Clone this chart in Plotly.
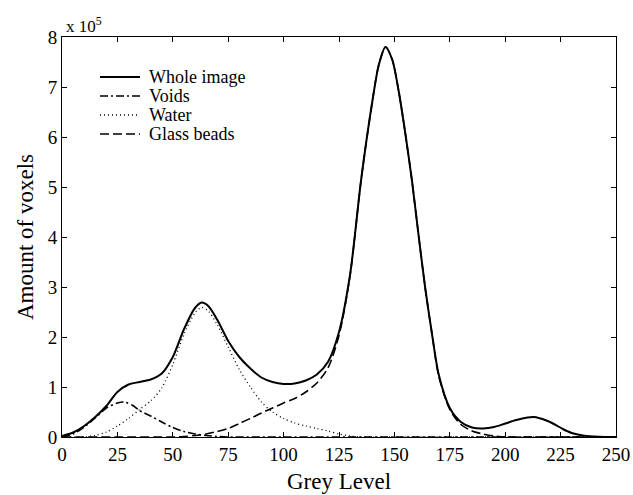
import plotly.graph_objects as go

# Whole image histogram (grey level, amount x 1e5)
whole_x = [0, 5, 10, 15, 20, 25, 30, 35, 40, 45, 50, 55, 60, 63, 66, 70, 75, 80, 85, 90,
           95, 100, 105, 110, 115, 120, 125, 130, 135, 140, 143, 146, 149, 152, 155, 158,
           161, 164, 167, 170, 175, 180, 185, 190, 195, 200, 205, 210, 213, 218, 222, 226,
           230, 235, 240, 245, 250]
whole_y = [0.02, 0.09, 0.22, 0.40, 0.62, 0.90, 1.05, 1.10, 1.15, 1.27, 1.60, 2.15, 2.58, 2.69,
           2.62, 2.35, 1.92, 1.60, 1.37, 1.19, 1.10, 1.06, 1.07, 1.13, 1.25, 1.50, 2.10, 3.25,
           5.15, 6.70, 7.45, 7.80, 7.55, 6.90, 6.05, 5.10, 4.00, 2.95, 2.05, 1.25, 0.58, 0.30,
           0.19, 0.17, 0.20, 0.27, 0.34, 0.39, 0.40, 0.34, 0.26, 0.16, 0.08, 0.03, 0.01, 0.0, 0.0]

voids_x = [0, 5, 10, 15, 20, 25, 28, 32, 35, 40, 45, 50, 55, 60, 65, 70, 75, 100, 150, 200, 250]
voids_y = [0.01, 0.06, 0.20, 0.38, 0.58, 0.68, 0.70, 0.63, 0.53, 0.42, 0.30, 0.19, 0.11, 0.06,
           0.03, 0.01, 0.0, 0.0, 0.0, 0.0, 0.0]

water_x = [0, 10, 15, 20, 25, 30, 35, 40, 45, 50, 55, 60, 63, 66, 70, 75, 80, 85, 90, 95, 100,
           105, 110, 115, 120, 125, 130, 135, 150, 200, 250]
water_y = [0.0, 0.0, 0.03, 0.10, 0.22, 0.37, 0.55, 0.72, 0.98, 1.45, 2.05, 2.48, 2.59, 2.52,
           2.25, 1.80, 1.35, 1.00, 0.70, 0.50, 0.37, 0.28, 0.22, 0.17, 0.12, 0.06, 0.02, 0.0,
           0.0, 0.0, 0.0]

beads_x = [0, 50, 55, 60, 65, 70, 75, 80, 85, 90, 95, 100, 105, 110, 115, 120, 125, 130, 135,
           140, 143, 146, 149, 152, 155, 158, 161, 164, 167, 170, 175, 180, 185, 190, 195, 200,
           225, 250]
beads_y = [0.0, 0.0, 0.01, 0.03, 0.06, 0.11, 0.17, 0.27, 0.37, 0.48, 0.58, 0.68, 0.77, 0.90,
           1.08, 1.38, 2.03, 3.23, 5.15, 6.70, 7.45, 7.80, 7.55, 6.90, 6.05, 5.10, 4.00, 2.95,
           2.05, 1.22, 0.55, 0.25, 0.12, 0.06, 0.02, 0.0, 0.0, 0.0]

x_ticks = [0, 25, 50, 75, 100, 125, 150, 175, 200, 225, 250]
y_ticks = [0, 1, 2, 3, 4, 5, 6, 7, 8]

legend_names = ["Whole image", "Voids", "Water", "Glass beads"]

FONT = "Liberation Serif"

styles = [
    dict(color="black", width=2, dash="solid"),
    dict(color="black", width=1.6, dash="8px,3px,2px,3px"),
    dict(color="black", width=1.3, dash="1px,3px"),
    dict(color="black", width=1.6, dash="9px,4px"),
]

series = [(whole_x, whole_y), (voids_x, voids_y), (water_x, water_y), (beads_x, beads_y)]

fig = go.Figure()
for (xs, ys), name, st in zip(series, legend_names, styles):
    fig.add_trace(go.Scatter(x=xs, y=ys, mode="lines", name=name,
                             line=dict(shape="spline", smoothing=0.8, **st),
                             showlegend=False))

# legend drawn in paper coordinates
leg_x0, leg_x1, leg_tx = 0.0686, 0.1408, 0.1534
leg_y = [0.90, 0.8525, 0.805, 0.7575]
for name, st, yy in zip(legend_names, styles, leg_y):
    fig.add_shape(type="line", xref="paper", yref="paper", x0=leg_x0, x1=leg_x1, y0=yy, y1=yy,
                  line=st)
    fig.add_annotation(text=name, xref="paper", yref="paper", x=leg_tx, y=yy,
                       xanchor="left", yanchor="middle", showarrow=False,
                       font=dict(family=FONT, size=18, color="black"))

axis_common = dict(showline=True, linecolor="black", linewidth=1, mirror="ticks",
                   ticks="inside", ticklen=5, tickcolor="black", showgrid=False,
                   zeroline=False, automargin=False,
                   tickfont=dict(family=FONT, size=19, color="black"))

fig.update_xaxes(range=[0, 250], tickvals=x_ticks, ticktext=[str(v) for v in x_ticks],
                 title=dict(text="Grey Level", font=dict(family=FONT, size=23, color="black"),
                            standoff=9),
                 **axis_common)
fig.update_yaxes(range=[0, 8], tickvals=y_ticks, ticktext=[str(v) for v in y_ticks],
                 title=dict(text="Amount of voxels", font=dict(family=FONT, size=23, color="black"),
                            standoff=7),
                 **axis_common)

fig.add_annotation(text="x 10<sup>5</sup>", xref="paper", yref="paper", x=0.004, y=1.0,
                   xanchor="left", yanchor="bottom", showarrow=False, yshift=-1,
                   font=dict(family=FONT, size=17, color="black"))

fig.update_layout(
    width=633, height=495,
    margin=dict(l=62, r=17, t=37, b=58),
    plot_bgcolor="white", paper_bgcolor="white",
    font=dict(family=FONT, color="black"),
    showlegend=False,
)

fig.write_html("out.html")
